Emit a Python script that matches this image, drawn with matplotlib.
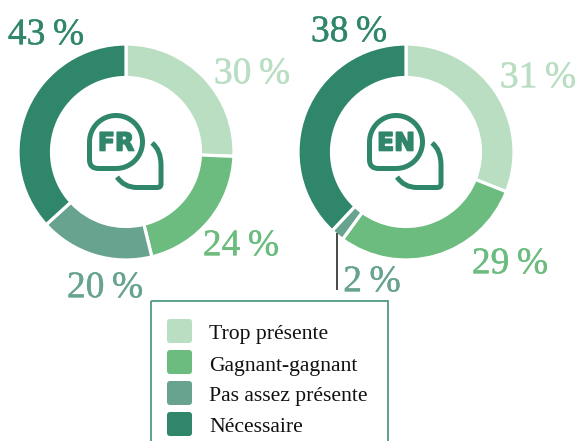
import numpy as np
import matplotlib
matplotlib.use("Agg")
import matplotlib.pyplot as plt
import matplotlib.patheffects as pe
from matplotlib.path import Path
from matplotlib.patches import PathPatch, FancyBboxPatch, Rectangle

categories = ["Trop présente", "Gagnant-gagnant", "Pas assez présente", "Nécessaire"]
colors = ["#B9DEC2", "#6BBC7E", "#67A38F", "#2F866B"]
fr_values = [30, 24, 20, 43]
en_values = [31, 29, 2, 38]
fr_labels = ["30\u2009%", "24\u2009%", "20\u2009%", "43\u2009%"]
en_labels = ["31\u2009%", "29\u2009%", "2\u2009%", "38\u2009%"]
fr_label_pos = [(252, 74), (241, 246), (105, 288), (46, 35)]
en_label_pos = [(538, 78), (510, 264), (372, 282), (349, 32)]

W, H = 577, 441
plt.rcParams["font.family"] = ["Liberation Serif", "DejaVu Sans"]
fig = plt.figure(figsize=(W / 100, H / 100), dpi=100)
R, IR = 108, 74.5
CY = 152

def donut(cx, vals):
    ax = fig.add_axes([(cx - R - 2) / W, 1 - (CY + R + 2) / H, (2 * R + 4) / W, (2 * R + 4) / H])
    ax.pie(vals, colors=colors, startangle=90, counterclock=False, radius=1,
           wedgeprops=dict(width=(R - IR) / R, edgecolor="white", linewidth=2.3))
    lim = (R + 2) / R
    ax.set_xlim(-lim, lim)
    ax.set_ylim(-lim, lim)
    ax.set_aspect("equal")

donut(126, fr_values)
donut(406, en_values)

ov = fig.add_axes([0, 0, 1, 1], zorder=5)
ov.set_xlim(0, W)
ov.set_ylim(H, 0)
ov.axis("off")
ov.patch.set_alpha(0)

for labels, pos in ((fr_labels, fr_label_pos), (en_labels, en_label_pos)):
    for i, (t, p) in enumerate(zip(labels, pos)):
        ov.text(p[0], p[1], t, color=colors[i], fontsize=27, ha="center", va="center",
                path_effects=[pe.withStroke(linewidth=0.3, foreground=colors[i])])

ov.plot([337, 337], [233, 290], color="#3A3A3A", lw=1.3, solid_capstyle="butt")

def icon(dx, label):
    t = np.radians(np.linspace(90, -180, 60))
    cx, cy, r = 116 + dx, 142, 26.5
    pts = [(cx + r * np.cos(a), cy + r * np.sin(a)) for a in t]
    verts = pts + [(cx - r, cy + 18), (cx - r, cy + r), (cx - r + 9, cy + r), (cx, cy + r)]
    codes = [Path.MOVETO] + [Path.LINETO] * (len(pts) - 1) + [Path.LINETO, Path.CURVE3, Path.CURVE3, Path.LINETO]
    ov.add_patch(PathPatch(Path(verts, codes), fill=False, edgecolor=colors[3], lw=3.6, joinstyle="round", capstyle="butt"))
    v2 = [(152 + dx, 143), (161 + dx, 150), (161 + dx, 165), (161 + dx, 184),
          (161 + dx, 187.5), (157 + dx, 187.5), (137 + dx, 187.5), (124 + dx, 187.5), (117 + dx, 177)]
    c2 = [Path.MOVETO, Path.CURVE3, Path.CURVE3, Path.LINETO, Path.CURVE3, Path.CURVE3, Path.LINETO, Path.CURVE3, Path.CURVE3]
    ov.add_patch(PathPatch(Path(v2, c2), fill=False, edgecolor=colors[3], lw=3.6, capstyle="butt"))
    ov.text(cx, cy + 1.5, label, color=colors[3], fontsize=18, fontweight="bold",
            family="DejaVu Sans", ha="center", va="center",
            path_effects=[pe.withStroke(linewidth=1.2, foreground=colors[3])])

icon(0, "FR")
icon(280, "EN")

ov.add_patch(Rectangle((150.5, 300.5), 237.5, 160, fill=False, edgecolor="#4F9A84", lw=1.3))
sw_y = [319, 350, 381, 412]
for i, (name, y) in enumerate(zip(categories, sw_y)):
    ov.add_patch(FancyBboxPatch((169, y + 2), 21, 20, boxstyle="round,pad=2,rounding_size=3",
                                facecolor=colors[i], edgecolor="none"))
    ov.text(209, y + 16, name, color="#111111", fontsize=15.6, ha="left", va="center")

fig.savefig("out.png", dpi=100, facecolor="white")
